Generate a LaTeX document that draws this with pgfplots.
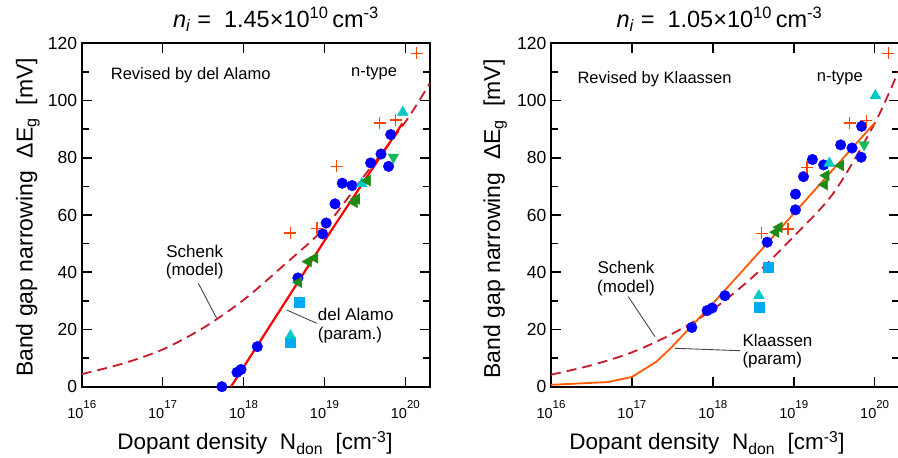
\documentclass[border=0pt]{standalone}
\usepackage{pgfplots}
\pgfplotsset{compat=1.18}
\usepackage{fontspec}
\setmainfont{Liberation Sans}

\definecolor{cblue}{RGB}{0,0,255}
\definecolor{cplus}{RGB}{255,69,0}
\definecolor{ccyan}{RGB}{0,200,200}
\definecolor{csq}{RGB}{0,170,240}
\definecolor{cgreenL}{RGB}{30,140,20}
\definecolor{cgreenD}{RGB}{20,185,90}
\definecolor{cschenk}{RGB}{200,25,40}
\definecolor{cdel}{RGB}{255,0,0}
\definecolor{cklaas}{RGB}{255,90,0}
\definecolor{cleader}{RGB}{70,70,70}

\newcommand{\fs}[1]{\fontsize{#1}{#1}\selectfont}
\newcommand{\ttp}[1]{10\raisebox{9.8pt}{\fs{11.5}#1}}

\pgfplotsset{
  pblue/.style={only marks, mark=*, mark size=5.3pt, color=cblue, mark options={draw=cblue, fill=cblue}},
  pplus/.style={only marks, mark=+, mark size=6pt, color=cplus, mark options={line width=1.4pt, draw=cplus}},
  pcyan/.style={only marks, mark=triangle*, mark size=6.2pt, color=ccyan, mark options={fill=ccyan, draw=ccyan}},
  psq/.style={only marks, mark=square*, mark size=5pt, color=csq, mark options={fill=csq, draw=csq}},
  pgl/.style={only marks, mark=triangle*, mark size=6.2pt, color=cgreenL, mark options={rotate=90, fill=cgreenL, draw=cgreenL}},
  pgd/.style={only marks, mark=triangle*, mark size=6.2pt, color=cgreenD, mark options={rotate=180, fill=cgreenD, draw=cgreenD}},
  schenk/.style={no marks, smooth, color=cschenk, line width=1.8pt, dash pattern=on 10pt off 6pt},
}

\begin{document}
\begin{tikzpicture}[x=1pt,y=1pt]
% ---------------- left panel ----------------
\begin{axis}[
    at={(81.7pt,71.3pt)}, anchor=south west,
    scale only axis, width=348pt, height=343.4pt,
    xmode=log, xmin=1e16, xmax=2e20, ymin=0, ymax=120,
    xtick={1e16,1e17,1e18,1e19,1e20},
    xticklabels={\ttp{16},\ttp{17},\ttp{18},\ttp{19},\ttp{20}},
    xminorticks=false,
    ytick={0,20,40,60,80,100,120},
    minor ytick={10,30,50,70,90,110},
    tick align=inside,
    major tick length=10pt, minor tick length=7pt,
    every tick/.append style={black, line width=1.6pt},
    axis line style={black, line width=2pt},
    clip=false,
    yticklabel={\pgfmathprintnumber[assume math mode=true]{\tick}},
    yticklabel style={font=\fs{17.5}, inner sep=0pt, xshift=-4.4pt, anchor=east},
    xticklabel style={font=\fs{14.5}, anchor=base, inner sep=0pt, yshift=-31.6pt},
]
\addplot[pblue] coordinates {
(5.4e17,0) (8.3e17,5) (9.3e17,6) (1.48e18,14) (4.7e18,38) (9.5e18,53.4) (1.05e19,57.2)
(1.35e19,63.9) (1.66e19,71.1) (2.19e19,70.3) (3.72e19,78.2) (5.0e19,81.3) (6.2e19,77) (6.6e19,88.1)};
\addplot[psq] coordinates {(3.8e18,15.5) (4.9e18,29.7)};
\addplot[pcyan] coordinates {(9.3e19,95.9) (2.9e19,71.0) (3.8e18,17.8)};
\addplot[pgl] coordinates {
(3.4e19,72) (2.34e19,64.4) (2.5e19,65.6) (4.8e18,36.5) (6.3e18,43.7) (7.6e18,45)};
\addplot[pgd] coordinates {(7.1e19,80.2)};
\addplot[pplus] coordinates {
(3.8e18,53.7) (8.1e18,55.3) (1.41e19,77.0) (4.8e19,92.2) (7.6e19,93.2) (1.38e20,116.5)};
\addplot[schenk] coordinates {
(1e16,4.4) (3.16e16,8) (1e17,13) (3.16e17,20.5) (1e18,30.3) (3.16e18,42.5)
(1e19,55.5) (3.16e19,74) (1e20,92.5) (2e20,106)};
\addplot[no marks, color=cdel, line width=2.2pt] coordinates {(7e17,0) (1e19,51) (9.2e19,92)};
\end{axis}
% ---------------- right panel ----------------
\begin{axis}[
    at={(551pt,71.3pt)}, anchor=south west,
    scale only axis, width=348pt, height=343.4pt,
    xmode=log, xmin=1e16, xmax=2e20, ymin=0, ymax=120,
    xtick={1e16,1e17,1e18,1e19,1e20},
    xticklabels={\ttp{16},\ttp{17},\ttp{18},\ttp{19},\ttp{20}},
    xminorticks=false,
    ytick={0,20,40,60,80,100,120},
    minor ytick={10,30,50,70,90,110},
    tick align=inside,
    major tick length=10pt, minor tick length=7pt,
    every tick/.append style={black, line width=1.6pt},
    axis line style={black, line width=2pt},
    clip=false,
    yticklabel={\pgfmathprintnumber[assume math mode=true]{\tick}},
    yticklabel style={font=\fs{17.5}, inner sep=0pt, xshift=-4.4pt, anchor=east},
    xticklabel style={font=\fs{14.5}, anchor=base, inner sep=0pt, yshift=-31.6pt},
]
\addplot[pblue] coordinates {
(5.5e17,20.7) (8.5e17,26.6) (9.8e17,27.5) (1.41e18,31.8) (4.7e18,50.5) (1.05e19,61.8) (1.05e19,67.3)
(1.32e19,73.4) (1.7e19,79.4) (2.34e19,77.5) (3.8e19,84.5) (5.25e19,83.4) (6.8e19,80.2) (6.9e19,91.0)};
\addplot[psq] coordinates {(3.7e18,27.7) (4.9e18,41.7)};
\addplot[pcyan] coordinates {(1.02e20,101.7) (2.75e19,78.1) (3.7e18,31.8)};
\addplot[pgl] coordinates {
(2.5e19,73.8) (2.4e19,70.6) (3.8e19,77.3) (6.0e18,54) (6.6e18,55.7)};
\addplot[pgd] coordinates {(7.4e19,84.6)};
\addplot[pplus] coordinates {
(4.0e18,53.6) (8.5e18,55.1) (1.45e19,76.7) (4.9e19,92.1) (7.9e19,93) (1.48e20,116.5)};
\addplot[schenk] coordinates {
(1e16,4.2) (3.16e16,7.5) (1e17,12) (3.16e17,18.5) (1e18,27) (3.16e18,38.5)
(1e19,52.5) (3.16e19,68) (1e20,92) (1.95e20,110)};
\addplot[no marks, color=cklaas, line width=1.8pt] coordinates {
(1e16,0.66) (5e16,1.61) (1e17,3.4) (2e17,8.71) (3e17,13.4) (1e18,29.06) (2e18,38.45)
(5e18,50.98) (1e19,60.5) (2e19,70.04) (5e19,82.67) (1e20,92.2)};
\end{axis}
% ---------------- titles ----------------
\node[anchor=base, font=\fs{23.5}] at (276,430) {\textit{n}\textsubscript{\textit{i}} =\ \ 1.45×10\textsuperscript{10}\,cm\textsuperscript{-3}};
\node[anchor=base, font=\fs{23.5}] at (719.5,430) {\textit{n}\textsubscript{\textit{i}} =\ \ 1.05×10\textsuperscript{10}\,cm\textsuperscript{-3}};
% ---------------- axis labels ----------------
\node[rotate=90, anchor=base, font=\fs{23}] at (32.7,240.5) {Band gap narrowing\ \ ΔE\textsubscript{g}\ \ [mV]};
\node[rotate=90, anchor=base, font=\fs{23}] at (500,239) {Band gap narrowing\ \ ΔE\textsubscript{g}\ \ [mV]};
\node[anchor=base, font=\fs{22.5}] at (255,8) {Dopant density\ \ N\textsubscript{don}\ \ [cm\textsuperscript{-3}]};
\node[anchor=base, font=\fs{22.5}] at (707,8) {Dopant density\ \ N\textsubscript{don}\ \ [cm\textsuperscript{-3}]};
% ---------------- annotations left ----------------
\node[anchor=base west, inner sep=0pt, font=\fs{16.5}] at (110.7,378.7) {Revised by del Alamo};
\node[anchor=base west, inner sep=0pt, font=\fs{16.5}] at (351,381.3) {n-type};
\node[anchor=base, inner sep=0pt, font=\fs{17}] at (194.7,200.7) {Schenk};
\node[anchor=base, inner sep=0pt, font=\fs{17}] at (194.7,182) {(model)};
\draw[cleader, line width=0.9pt] (198.3,174.7) -- (216.7,139.7);
\node[anchor=base west, inner sep=0pt, font=\fs{17}] at (317.7,137.3) {del Alamo};
\node[anchor=base west, inner sep=0pt, font=\fs{17}] at (317.7,118.5) {(param.)};
\draw[cleader, line width=0.9pt] (286.7,148) -- (316.7,134.7);
% ---------------- annotations right ----------------
\node[anchor=base west, inner sep=0pt, font=\fs{16.5}] at (577.3,374.7) {Revised by Klaassen};
\node[anchor=base west, inner sep=0pt, font=\fs{16.5}] at (816.7,376.3) {n-type};
\node[anchor=base, inner sep=0pt, font=\fs{17}] at (626,184) {Schenk};
\node[anchor=base, inner sep=0pt, font=\fs{17}] at (626,165.5) {(model)};
\draw[cleader, line width=0.9pt] (628.3,161.3) -- (655,121.3);
\node[anchor=base west, inner sep=0pt, font=\fs{17}] at (742.3,111.3) {Klaassen};
\node[anchor=base west, inner sep=0pt, font=\fs{17}] at (742.3,93.5) {(param)};
\draw[cleader, line width=0.9pt] (675,109.7) -- (740,107.3);
\pgfresetboundingbox
\useasboundingbox (0,0) rectangle (898,458);
\end{tikzpicture}
\end{document}
